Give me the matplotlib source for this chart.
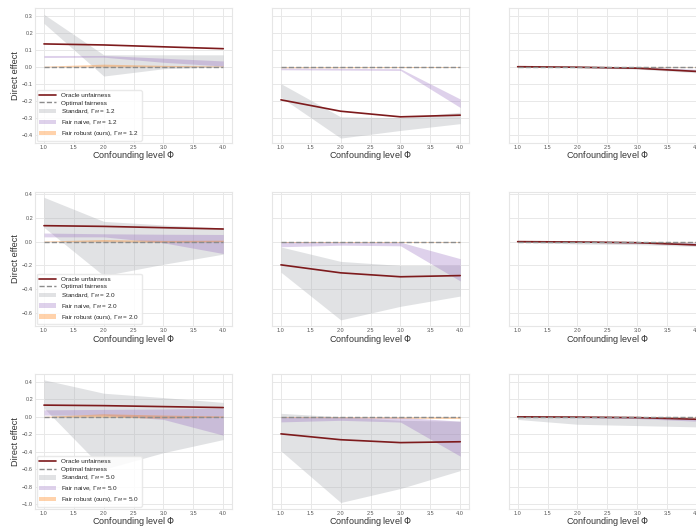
import matplotlib
matplotlib.use("Agg")
import matplotlib.pyplot as plt
import seaborn as sns

sns.set_style("whitegrid")
plt.rcParams["font.family"] = ["Liberation Sans", "DejaVu Sans"]

# confounding levels
phi = [1.0, 2.0, 3.0, 4.0]
gammas = [1.2, 2.0, 5.0]

# oracle unfairness, one list per column (scenario)
oracle = [[0.134, 0.128, 0.117, 0.106],
          [-0.195, -0.262, -0.295, -0.285],
          [0.0, -0.003, -0.009, -0.028]]

# Gamma_M = 1.2  (columns: scenario 1, 2, 3)
std_hi_12 = [[0.308, 0.07, 0.07, 0.07], [-0.1, -0.295, -0.3, -0.268], [0.002, 0.002, 0.0, -0.018]]
std_lo_12 = [[0.255, -0.055, -0.012, 0.0], [-0.18, -0.42, -0.375, -0.335], [-0.003, -0.006, -0.014, -0.036]]
naive_hi_12 = [[0.066, 0.066, 0.05, 0.034], [-0.008, -0.01, -0.012, -0.19], [0.001, 0.0, -0.002, -0.015]]
naive_lo_12 = [[0.054, 0.056, 0.026, 0.004], [-0.018, -0.02, -0.022, -0.24], [-0.002, -0.004, -0.008, -0.028]]
robust_hi_12 = [[0.003, 0.015, 0.008, 0.004], [0.0, 0.0, 0.0, 0.0], [0.001, 0.001, 0.001, 0.0]]
robust_lo_12 = [[-0.001, 0.0, 0.0, 0.0], [-0.006, -0.006, -0.005, -0.004], [-0.001, -0.002, -0.002, -0.002]]

# Gamma_M = 2.0
std_hi_20 = [[0.372, 0.17, 0.14, 0.115], [-0.045, -0.166, -0.2, -0.2], [0.003, 0.004, 0.0, -0.01]]
std_lo_20 = [[0.12, -0.286, -0.19, -0.105], [-0.257, -0.657, -0.543, -0.457], [-0.005, -0.02, -0.025, -0.04]]
naive_hi_20 = [[0.072, 0.066, 0.062, 0.06], [0.0, -0.003, -0.005, -0.143], [0.001, 0.0, -0.003, -0.01]]
naive_lo_20 = [[0.04, 0.04, -0.01, -0.1], [-0.043, -0.03, -0.035, -0.33], [-0.002, -0.005, -0.012, -0.03]]
robust_hi_20 = [[0.005, 0.018, 0.01, 0.012], [0.0, 0.0, 0.0, 0.0], [0.001, 0.001, 0.001, 0.0]]
robust_lo_20 = [[0.0, 0.0, -0.005, 0.0], [-0.006, -0.006, -0.006, -0.005], [-0.001, -0.002, -0.002, -0.003]]

# Gamma_M = 5.0
std_hi_50 = [[0.423, 0.27, 0.22, 0.165], [0.04, 0.0, -0.04, -0.05], [0.005, 0.005, 0.0, -0.005]]
std_lo_50 = [[0.1, -0.6, -0.41, -0.26], [-0.39, -0.98, -0.82, -0.615], [-0.03, -0.085, -0.1, -0.115]]
naive_hi_50 = [[0.08, 0.085, 0.09, 0.1], [0.0, -0.002, -0.005, -0.05], [0.002, 0.0, -0.005, -0.02]]
naive_lo_50 = [[0.02, 0.02, -0.03, -0.21], [-0.058, -0.04, -0.06, -0.45], [-0.005, -0.01, -0.02, -0.05]]
robust_hi_50 = [[0.005, 0.035, 0.02, 0.01], [0.0, 0.0, 0.0, 0.0], [0.002, 0.002, 0.001, 0.0]]
robust_lo_50 = [[-0.003, -0.003, -0.015, -0.005], [-0.008, -0.01, -0.015, -0.02], [-0.002, -0.003, -0.004, -0.005]]

rows = [
    (std_lo_12, std_hi_12, naive_lo_12, naive_hi_12, robust_lo_12, robust_hi_12),
    (std_lo_20, std_hi_20, naive_lo_20, naive_hi_20, robust_lo_20, robust_hi_20),
    (std_lo_50, std_hi_50, naive_lo_50, naive_hi_50, robust_lo_50, robust_hi_50),
]
row_ylim = [(-0.446, 0.346), (-0.71, 0.42), (-1.05, 0.49)]

W, H = 696, 529
fig = plt.figure(figsize=(W / 100, H / 100), dpi=100)

col_left = [35, 272, 508.7]   # pixels
row_top = [7.9, 191.6, 374.0]
ax_w, ax_h = 197.2, 134.6

for r in range(3):
    s_lo, s_hi, n_lo, n_hi, f_lo, f_hi = rows[r]
    g = gammas[r]
    for c in range(3):
        ax = fig.add_axes([col_left[c] / W, 1 - (row_top[r] + ax_h) / H, ax_w / W, ax_h / H])
        ax.fill_between(phi, s_lo[c], s_hi[c], color="#a9adb2", alpha=0.35, lw=0,
                        label=r"Standard, $\Gamma_M$ = %.1f" % g)
        ax.fill_between(phi, n_lo[c], n_hi[c], color="#9467bd", alpha=0.3, lw=0,
                        label=r"Fair naive, $\Gamma_M$ = %.1f" % g)
        ax.fill_between(phi, f_lo[c], f_hi[c], color="#ff7f0e", alpha=0.35, lw=0,
                        label=r"Fair robust (ours), $\Gamma_M$ = %.1f" % g)
        ax.plot(phi, oracle[c], color="#7d1a1c", lw=1.2, label="Oracle unfairness")
        ax.plot(phi, [0, 0, 0, 0], color="#8c8c8c", lw=1.0, ls="--", label="Optimal fairness")

        ax.set_xlim(0.85, 4.15)
        ax.set_ylim(*row_ylim[r])
        ax.set_xticks([1.0, 1.5, 2.0, 2.5, 3.0, 3.5, 4.0])
        ax.tick_params(labelsize=4.0, colors="#555555", length=0, pad=1.5)
        ax.grid(color="#e8e8e8", lw=0.7)
        for sp in ax.spines.values():
            sp.set_color("#e6e6e6")
            sp.set_linewidth(0.8)
        ax.set_xlabel(r"Confounding level $\Phi$", fontsize=6.5, color="#333333", labelpad=-0.5)
        if c == 0:
            ax.set_ylabel("Direct effect", fontsize=6.6, color="#333333", labelpad=1)
            h, l = ax.get_legend_handles_labels()
            order = [3, 4, 0, 1, 2]
            ax.legend([h[i] for i in order], [l[i] for i in order], loc="lower left",
                      fontsize=4.6, frameon=True, framealpha=0.85, edgecolor="#e6e6e6",
                      borderaxespad=0.3, handlelength=2.6, labelspacing=0.3,
                      borderpad=0.4)
        else:
            ax.tick_params(labelleft=False)

fig.savefig("out.png", dpi=100)
